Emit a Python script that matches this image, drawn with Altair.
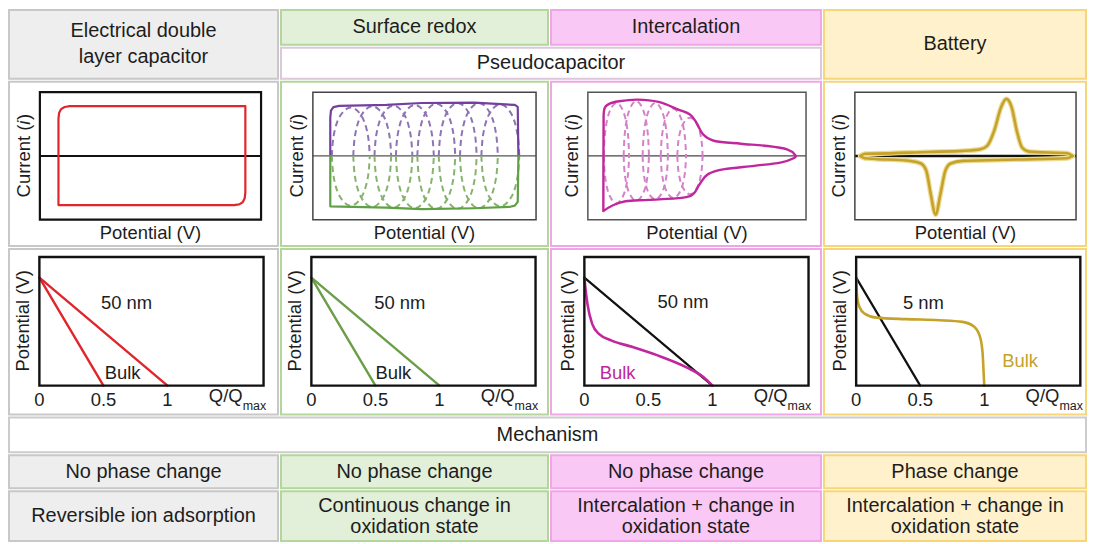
import altair as alt
import pandas as pd

FONT = "Liberation Sans"
FS_TABLE = 20
FS_PANEL = 18.5
TXT = "#1d1d1d"

# ---------------- table text ----------------
col_titles = ["Electrical double\nlayer capacitor", "Surface redox", "Intercalation", "Battery"]
group_title = "Pseudocapacitor"
mech_title = "Mechanism"
phase_labels = ["No phase change", "No phase change", "No phase change", "Phase change"]
mech_labels = ["Reversible ion adsorption",
               "Continuous change in\noxidation state",
               "Intercalation + change in\noxidation state",
               "Intercalation + change in\noxidation state"]

# ---------------- CV curves (x: potential 0..1 across frame, y: current -1..1) ----------------
edlc_cv_x = [0.084, 0.084, 0.087, 0.096, 0.112, 0.135, 0.929, 0.929, 0.926, 0.917, 0.901, 0.878, 0.084]
edlc_cv_y = [-0.77, 0.58, 0.675, 0.735, 0.768, 0.78, 0.78, -0.57, -0.665, -0.727, -0.760, -0.77, -0.77]

redox_top_x = [0.078, 0.078, 0.081, 0.092, 0.118, 0.330, 0.487, 0.722, 0.905, 0.918, 0.921]
redox_top_y = [0.0, 0.60, 0.71, 0.765, 0.785, 0.80, 0.83, 0.835, 0.80, 0.77, 0.0]
redox_bot_x = [0.078, 0.078, 0.330, 0.487, 0.722, 0.880, 0.905, 0.918, 0.921]
redox_bot_y = [0.0, -0.79, -0.81, -0.835, -0.82, -0.80, -0.78, -0.72, 0.0]
redox_oval_c = [0.170, 0.266, 0.361, 0.457, 0.553, 0.649, 0.744, 0.840]
redox_oval_top = [0.76, 0.78, 0.79, 0.80, 0.82, 0.83, 0.83, 0.81]
redox_oval_bot = [-0.78, -0.80, -0.81, -0.82, -0.83, -0.83, -0.82, -0.79]
redox_oval_hw = 0.085

inter_x = [0.071, 0.072, 0.075, 0.098, 0.143, 0.226, 0.324, 0.415, 0.468, 0.498, 0.528, 0.581, 0.701,
           0.822, 0.913, 0.950, 0.943, 0.882, 0.762, 0.626, 0.551, 0.513, 0.483, 0.430, 0.279, 0.173,
           0.113, 0.071]
inter_y = [-0.865, 0.39, 0.727, 0.816, 0.857, 0.883, 0.847, 0.727, 0.649, 0.519, 0.338, 0.234, 0.192,
           0.156, 0.104, 0.016, -0.036, -0.104, -0.155, -0.207, -0.285, -0.44, -0.596, -0.658, -0.689,
           -0.710, -0.777, -0.865]
inter_oval_c = [0.131, 0.222, 0.309, 0.392, 0.468]
inter_oval_top = [0.83, 0.86, 0.83, 0.74, 0.60]
inter_oval_bot = [-0.74, -0.70, -0.68, -0.66, -0.60]
inter_oval_hw = 0.058

batt_up_x = [0.025, 0.045, 0.094, 0.331, 0.488, 0.567, 0.598, 0.630, 0.661, 0.685, 0.709, 0.732, 0.756,
             0.787, 0.961, 0.984]
batt_up_y = [0.0, 0.035, 0.037, 0.063, 0.079, 0.105, 0.158, 0.395, 0.763, 0.895, 0.763, 0.395, 0.132,
             0.068, 0.042, 0.0]
batt_lo_x = [0.025, 0.045, 0.094, 0.252, 0.299, 0.323, 0.343, 0.365, 0.387, 0.409, 0.433, 0.488, 0.724,
             0.961, 0.984]
batt_lo_y = [0.0, -0.036, -0.047, -0.078, -0.119, -0.233, -0.596, -0.92, -0.596, -0.233, -0.119, -0.078,
             -0.057, -0.036, 0.0]

# unit oval template (upper half, left to right)
oval_dx = [-1, -0.92, -0.71, -0.38, 0, 0.38, 0.71, 0.92, 1]
oval_dy = [0, 0.38, 0.71, 0.92, 1, 0.92, 0.71, 0.38, 0]

# ---------------- galvanostatic curves (x: Q/Qmax, y: potential) ----------------
gcd_ticks = [0, 0.5, 1]
gcd_tick_labels = ["0", "0.5", "1"]
thin_x, thin_y = [0, 1], [0.84, 0]
bulk_lin_x, bulk_lin_y = [0, 0.5], [0.84, 0]
inter_bulk_x = [0, 0.006, 0.025, 0.061, 0.116, 0.213, 0.378, 0.572, 0.793, 0.931, 1.0]
inter_bulk_y = [0.84, 0.78, 0.63, 0.48, 0.40, 0.35, 0.30, 0.235, 0.144, 0.065, 0.0]
batt_nano_x, batt_nano_y = [0, 0.5], [0.84, 0]
batt_bulk_x = [0, 0.008, 0.026, 0.065, 0.156, 0.39, 0.649, 0.831, 0.922, 0.966, 0.987, 0.995, 1.0]
batt_bulk_y = [0.84, 0.687, 0.611, 0.56, 0.529, 0.517, 0.509, 0.496, 0.458, 0.382, 0.254, 0.102, 0.0]

# ---------------- styling / layout ----------------
SP = 1            # concat spacing between stroke-inclusive bounds
CELL_SW = 2
GAP = SP + CELL_SW
COL_W = [270, 268, 271, 263]
HDR_H, SUB_H = 69, [35, 31]
CV_H, GCD_H, MECH_H, PH_H, DESC_H = 165, 166, 35, 33, 50
fills = ["#eeeeee", "#e2efd9", "#fac8f4", "#fff1cc"]
strokes = ["#c8c8c8", "#b3d69c", "#f0a6e6", "#f7d67a"]
RED = "#e0262c"
PURPLE, GREEN = "#7440a0", "#5f9f45"
PURPLE_D, GREEN_D = "#8e74b4", "#86b36e"
MAGENTA, MAGENTA_D = "#c1279c", "#d482c9"
GOLD, GOLD_HALO = "#c5a22a", "#ecdc98"
GCD_GREEN = "#6a9e47"

# Arial/Liberation advance widths (em) used to stack the rotated "Current (i)" pieces
EM_CURRENT, EM_I, EM_PAREN = 3.945, 0.222, 0.333


def text_cell(label, w, h, fill, stroke, size=FS_TABLE, lh=22):
    n = label.count("\n") + 1
    df = pd.DataFrame({"t": [label]})
    return (alt.Chart(df)
            .mark_text(font=FONT, fontSize=size, color=TXT, lineBreak="\n", lineHeight=lh,
                       align="center", baseline="middle")
            .encode(x=alt.value(w / 2), y=alt.value(h / 2 - (n - 1) * lh / 2), text="t:N")
            .properties(width=w, height=h,
                        view=alt.ViewBackground(fill=fill, stroke=stroke, strokeWidth=CELL_SW)))


def geom(w, h, fl, ft, fw, fh, xr, yr):
    sx = fw / (xr[1] - xr[0])
    sy = fh / (yr[1] - yr[0])
    return dict(
        xd=[xr[0] - fl / sx, xr[1] + (w - fl - fw) / sx],
        yd=[yr[0] - (h - ft - fh) / sy, yr[1] + ft / sy],
        px=lambda p: xr[0] + (p - fl) / sx,
        py=lambda p: yr[1] - (p - ft) / sy,
        xr=xr, yr=yr, fl=fl, fw=fw, ft=ft, fh=fh, w=w, h=h)


def X(g):
    return alt.X("x:Q", scale=alt.Scale(domain=g["xd"], nice=False, zero=False), axis=None)


def Y(g):
    return alt.Y("y:Q", scale=alt.Scale(domain=g["yd"], nice=False, zero=False), axis=None)


def path_df(xs, ys, gid=0):
    return pd.DataFrame({"g": gid, "i": list(range(len(xs))), "x": xs, "y": ys})


def ovals(centers, tops, bots, hw, upper=True):
    frames = []
    for k, (c, t, b) in enumerate(zip(centers, tops, bots)):
        xs = [c + dx * hw for dx in oval_dx]
        ys = [dy * (t if upper else b) for dy in oval_dy]
        frames.append(path_df(xs, ys, k))
    return pd.concat(frames, ignore_index=True)


def lines(g, df, color, width, dash=None, interp="linear"):
    kw = dict(color=color, strokeWidth=width, interpolate=interp, strokeCap="round", strokeJoin="round")
    if dash is not None:
        kw["strokeDash"] = dash
        kw["strokeCap"] = "butt"
    return alt.Chart(df).mark_line(**kw).encode(x=X(g), y=Y(g), detail="g:N", order=alt.Order("i:Q"))


def frame(g, color, width):
    df = pd.DataFrame({"x": [g["xr"][0]], "x2": [g["xr"][1]], "y": [g["yr"][0]], "y2": [g["yr"][1]]})
    return alt.Chart(df).mark_rect(fill="transparent", stroke=color, strokeWidth=width).encode(
        x=X(g), x2="x2:Q", y=Y(g), y2="y2:Q")


def hline(g, color, width):
    df = pd.DataFrame({"x": [g["xr"][0]], "x2": [g["xr"][1]], "y": [0.0]})
    return alt.Chart(df).mark_rule(color=color, strokeWidth=width).encode(x=X(g), x2="x2:Q", y=Y(g))


def texts(g, xs, ys, labels, size=FS_PANEL, align="center", baseline="middle", angle=0,
          style="normal", color=TXT):
    df = pd.DataFrame({"x": xs, "y": ys, "t": labels})
    kw = dict(font=FONT, fontSize=size, align=align, baseline=baseline, color=color)
    if angle:
        kw["angle"] = angle
    if style != "normal":
        kw["fontStyle"] = style
    return alt.Chart(df).mark_text(**kw).encode(x=X(g), y=Y(g), text="t:N")


# ---------------- CV panels ----------------
CV_FL = [31, 32, 37, 31]
CV_FW = [222, 224, 219, 222]
CV_FT, CV_FH = 10.5, 128


def cv_panel(k, curves, frame_color, frame_w, mid_color, mid_w):
    g = geom(COL_W[k], CV_H, CV_FL[k], CV_FT, CV_FW[k], CV_FH, (0, 1), (-1, 1))
    fs = FS_PANEL
    tx = g["px"](CV_FL[k] - 16)
    total = (EM_CURRENT + EM_I + EM_PAREN) * fs
    p0 = CV_FT + CV_FH / 2 + total / 2
    p1 = p0 - EM_CURRENT * fs
    p2 = p1 - EM_I * fs - 0.6
    layers = [hline(g, mid_color, mid_w)] + curves(g) + [
        frame(g, frame_color, frame_w),
        texts(g, [tx], [g["py"](p0)], ["Current ("], align="left", angle=270),
        texts(g, [tx], [g["py"](p1)], ["i"], align="left", angle=270, style="italic"),
        texts(g, [tx], [g["py"](p2)], [")"], align="left", angle=270),
        texts(g, [0.5], [g["py"](152)], ["Potential (V)"]),
    ]
    return alt.layer(*layers).properties(
        width=COL_W[k], height=CV_H,
        view=alt.ViewBackground(fill="white", stroke=strokes[k], strokeWidth=CELL_SW))


def cv_edlc(g):
    return [lines(g, path_df(edlc_cv_x, edlc_cv_y), RED, 2.2)]


def cv_redox(g):
    return [
        lines(g, ovals(redox_oval_c, redox_oval_top, redox_oval_bot, redox_oval_hw, True),
              PURPLE_D, 2.0, dash=[6, 4], interp="cardinal"),
        lines(g, ovals(redox_oval_c, redox_oval_top, redox_oval_bot, redox_oval_hw, False),
              GREEN_D, 2.0, dash=[6, 4], interp="cardinal"),
        lines(g, path_df(redox_top_x, redox_top_y), PURPLE, 2.2),
        lines(g, path_df(redox_bot_x, redox_bot_y), GREEN, 2.2),
    ]


def cv_inter(g):
    return [
        lines(g, ovals(inter_oval_c, inter_oval_top, inter_oval_bot, inter_oval_hw, True),
              MAGENTA_D, 2.0, dash=[6, 4], interp="cardinal"),
        lines(g, ovals(inter_oval_c, inter_oval_top, inter_oval_bot, inter_oval_hw, False),
              MAGENTA_D, 2.0, dash=[6, 4], interp="cardinal"),
        lines(g, path_df(inter_x, inter_y), MAGENTA, 2.4, interp="cardinal"),
    ]


def cv_batt(g):
    up = path_df(batt_up_x, batt_up_y, 0)
    lo = path_df(batt_lo_x, batt_lo_y, 1)
    both = pd.concat([up, lo], ignore_index=True)
    return [
        lines(g, both, GOLD_HALO, 5.0, interp="monotone"),
        lines(g, both, GOLD, 2.6, interp="monotone"),
    ]


# ---------------- GCD panels ----------------
GCD_FL = [30.5, 30.5, 33.5, 32.3]
GCD_FW, GCD_FT, GCD_FH = 225, 8, 129


def gcd_panel(k, curves, labels):
    g = geom(COL_W[k], GCD_H, GCD_FL[k], GCD_FT, GCD_FW, GCD_FH, (0, 1.75), (0, 1))
    fr = GCD_FL[k] + GCD_FW
    layers = curves(g) + [
        frame(g, "#111111", 2.4),
        texts(g, gcd_ticks, [g["py"](151)] * len(gcd_ticks), gcd_tick_labels),
        texts(g, [g["px"](fr - 21)], [g["py"](147.5)], ["Q/Q"], align="right"),
        texts(g, [g["px"](fr - 21)], [g["py"](157.5)], ["max"], size=12.5, align="left"),
        texts(g, [g["px"](GCD_FL[k] - 16.5)], [g["py"](72)], ["Potential (V)"], angle=270),
    ]
    for (lx, ly, lt, lc) in labels:
        layers.append(texts(g, [lx], [ly], [lt], color=lc))
    return alt.layer(*layers).properties(
        width=COL_W[k], height=GCD_H,
        view=alt.ViewBackground(fill="white", stroke=strokes[k], strokeWidth=CELL_SW))


def gcd_pair(color):
    def f(g):
        return [lines(g, path_df(thin_x, thin_y), color, 2.4),
                lines(g, path_df(bulk_lin_x, bulk_lin_y), color, 2.4)]
    return f


def gcd_inter(g):
    return [lines(g, path_df(thin_x, thin_y), "#111111", 2.2),
            lines(g, path_df(inter_bulk_x, inter_bulk_y), MAGENTA, 2.6, interp="monotone")]


def gcd_batt(g):
    return [lines(g, path_df(batt_nano_x, batt_nano_y), "#111111", 2.2),
            lines(g, path_df(batt_bulk_x, batt_bulk_y), GOLD, 2.6, interp="monotone")]


def hc(*charts):
    return alt.hconcat(*charts, spacing=SP)


def vc(*charts):
    return alt.vconcat(*charts, spacing=SP)


# ---------------- assemble ----------------
header = hc(
    text_cell(col_titles[0], COL_W[0], HDR_H, fills[0], strokes[0], lh=26),
    vc(hc(text_cell(col_titles[1], COL_W[1], SUB_H[0], fills[1], strokes[1]),
          text_cell(col_titles[2], COL_W[2], SUB_H[0], fills[2], strokes[2])),
       text_cell(group_title, COL_W[1] + GAP + COL_W[2], SUB_H[1], "white", "#dcc8da")),
    text_cell(col_titles[3], COL_W[3], HDR_H, fills[3], strokes[3]))

cv_row = hc(
    cv_panel(0, cv_edlc, "#111111", 2.2, "#111111", 2.0),
    cv_panel(1, cv_redox, "#444444", 1.5, "#555555", 1.3),
    cv_panel(2, cv_inter, "#555555", 1.5, "#444444", 1.2),
    cv_panel(3, cv_batt, "#444444", 1.5, "#111111", 2.6))

gcd_row = hc(
    gcd_panel(0, gcd_pair(RED), [(0.68, 0.64, "50 nm", TXT), (0.65, 0.10, "Bulk", TXT)]),
    gcd_panel(1, gcd_pair(GCD_GREEN), [(0.69, 0.64, "50 nm", TXT), (0.64, 0.10, "Bulk", TXT)]),
    gcd_panel(2, gcd_inter, [(0.77, 0.65, "50 nm", TXT), (0.26, 0.10, "Bulk", MAGENTA)]),
    gcd_panel(3, gcd_batt, [(0.525, 0.64, "5 nm", TXT), (1.28, 0.19, "Bulk", GOLD)]))

total_w = sum(COL_W) + 3 * GAP
mech_row = text_cell(mech_title, total_w, MECH_H, "white", "#cccccc")
phase_row = hc(*[text_cell(phase_labels[k], COL_W[k], PH_H, fills[k], strokes[k]) for k in range(4)])
desc_row = hc(*[text_cell(mech_labels[k], COL_W[k], DESC_H, fills[k], strokes[k], lh=21)
                for k in range(4)])

chart = (vc(header, cv_row, gcd_row, mech_row, phase_row, desc_row)
         .properties(padding=0, background="white")
         .configure_view(strokeWidth=0))

chart.save("out.html", embed_options={"renderer": "svg", "actions": False})
